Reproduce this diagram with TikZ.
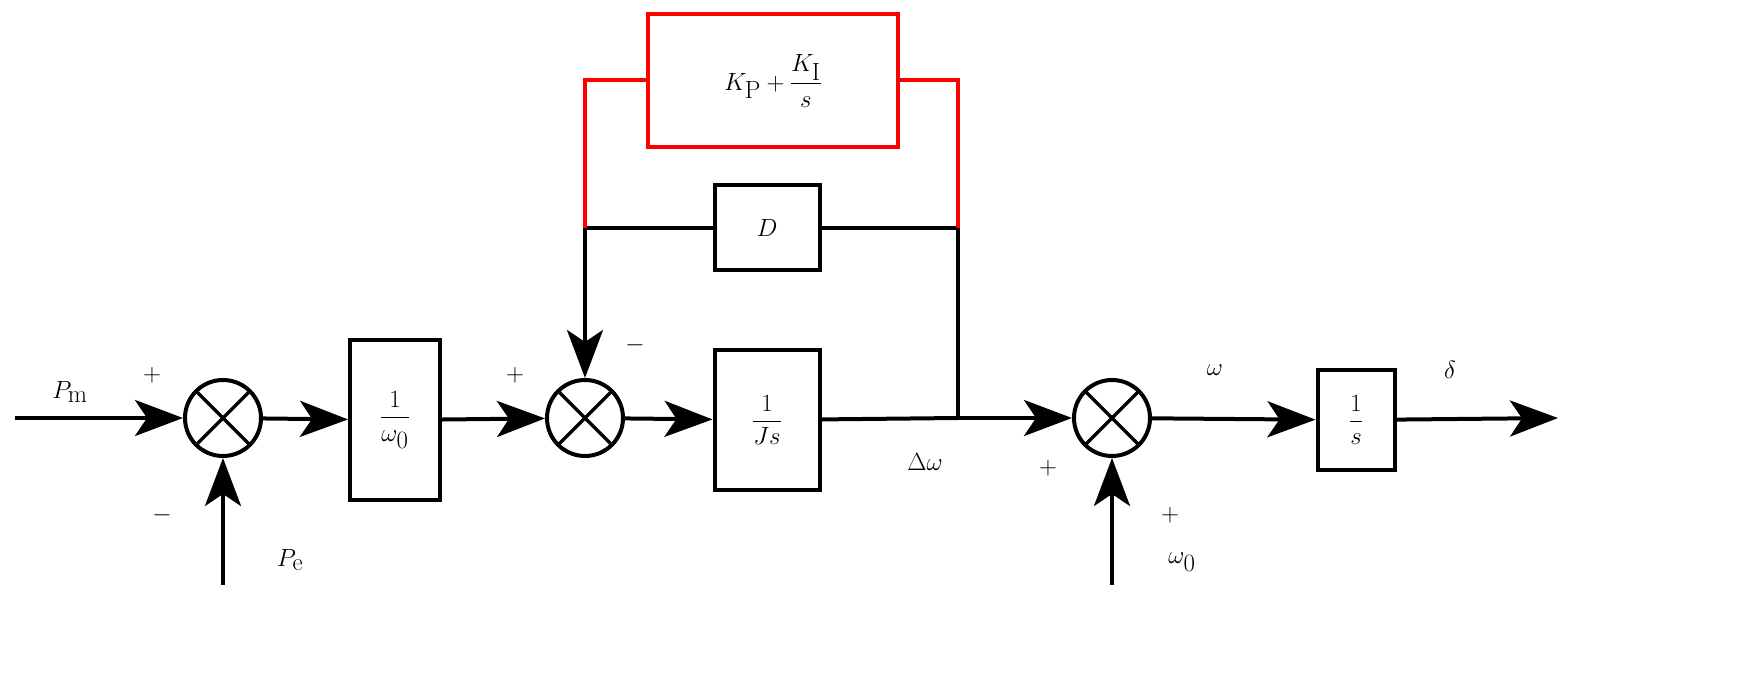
\documentclass[tikz,border=0pt]{standalone}
\usepackage{amsmath}
\usetikzlibrary{arrows.meta}
\begin{document}
\begin{tikzpicture}[x=1pt,y=-1pt,line width=4pt,
 sum/.style={draw,circle,minimum size=76pt,inner sep=0pt,path picture={\draw[line width=3.5pt] (path picture bounding box.north west) -- (path picture bounding box.south east) (path picture bounding box.north east) -- (path picture bounding box.south west);}},
 arr/.style={-{Stealth[length=48pt,width=36pt,inset=12pt]}},
 lbl/.style={font=\fontsize{44}{48}\selectfont}]
\useasboundingbox (0,0) rectangle (1741,684);
\node[sum] (s1) at (223,418) {};
\node[sum] (s2) at (585,418) {};
\node[sum] (s3) at (1112,418) {};
\node[draw,minimum width=90pt,minimum height=160pt,lbl] (b1) at (395,420) {$\dfrac{1}{\omega_0}$};
\node[draw,minimum width=105pt,minimum height=140pt,lbl] (b2) at (767,420) {$\dfrac{1}{Js}$};
\node[draw,minimum width=77pt,minimum height=100pt,lbl] (b3) at (1356,420) {$\dfrac{1}{s}$};
\node[draw,minimum width=105pt,minimum height=85pt,lbl] (d) at (767,228) {$D$};
\node[draw=red,minimum width=250pt,minimum height=133pt,lbl] (pi) at (773,81) {$K_{\mathrm P}+\dfrac{K_{\mathrm I}}{s}$};
\coordinate (in) at (15,418);
\coordinate (pe) at (223,585);
\coordinate (w0) at (1112,585);
\coordinate (out) at (1558,418);
\coordinate (br) at (958,418);
\coordinate (dl) at (585,228);
\coordinate (dr) at (958,228);
\coordinate (rl) at (585,80);
\coordinate (rr) at (958,80);
\draw[arr] (in) -- (s1);
\draw[arr] (pe) -- (s1);
\draw[arr] (s1) -- (b1);
\draw[arr] (b1) -- (s2);
\draw[arr] (s2) -- (b2);
\draw (b2) -- (br);
\draw[arr] (br) -- (s3);
\draw[arr] (w0) -- (s3);
\draw[arr] (s3) -- (b3);
\draw[arr] (b3) -- (out);
\draw (br) -- (dr) -- (d) -- (dl);
\draw[arr] (dl) -- (s2);
\draw[red] (dl) -- (rl) -- (pi.west|-rl);
\draw[red] (dr) -- (rr) -- (pi.east|-rr);
\node[lbl] (lpm) at (70,392) {$P_{\mathrm m}$};
\node[lbl] (p1) at (152,375) {$+$};
\node[lbl] (m1) at (162,515) {$-$};
\node[lbl] (lpe) at (290,560) {$P_{\mathrm e}$};
\node[lbl] (p2) at (515,375) {$+$};
\node[lbl] (m2) at (635,345) {$-$};
\node[lbl] (ldw) at (925,462) {$\Delta\omega$};
\node[lbl] (p3) at (1048,468) {$+$};
\node[lbl] (p4) at (1170,515) {$+$};
\node[lbl] (lw0) at (1182,562) {$\omega_0$};
\node[lbl] (lw) at (1215,370) {$\omega$};
\node[lbl] (ld) at (1450,370) {$\delta$};
\end{tikzpicture}
\end{document}
